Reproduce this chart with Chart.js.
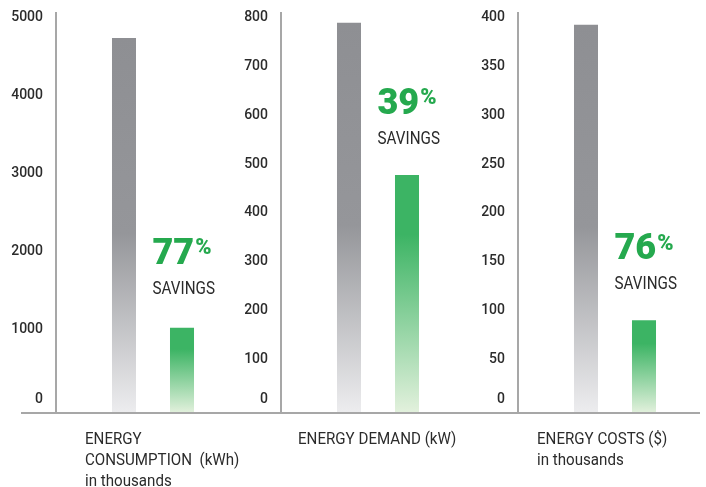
<!DOCTYPE html>
<html>
<head>
<meta charset="utf-8">
<script src="https://cdn.jsdelivr.net/npm/chart.js@4/dist/chart.umd.min.js"></script>
<style>
  html, body { margin: 0; padding: 0; background: #fff; overflow: hidden; }
  #wrap { position: relative; width: 706px; height: 487px; overflow: hidden; }
  #wrap canvas { position: absolute; top: 0; }
</style>
</head>
<body>
<div id="wrap">
  <canvas id="panel-0"></canvas>
  <canvas id="panel-1"></canvas>
  <canvas id="panel-2"></canvas>
</div>
<script>
// chart data
const panelTitles = [
  ["ENERGY", "CONSUMPTION  (kWh)", "in thousands"],
  ["ENERGY DEMAND (kW)"],
  ["ENERGY COSTS ($)", "in thousands"],
];
const beforeValues = [4800, 800, 398];
const afterValues = [1090, 488, 95];
const savingsPct = ["77", "39", "76"];
const axisMax = [5120, 820, 410];
const yTicks = [
  [0, 1000, 2000, 3000, 4000, 5000],
  [0, 100, 200, 300, 400, 500, 600, 700, 800],
  [0, 50, 100, 150, 200, 250, 300, 350, 400],
];

// where each panel sits on the page
const panelLayout = [
  { left: 0, width: 250, axisWidth: 56, captionX: 29, calloutDy: 0, lineFrom: 21, lineTo: 250 },
  { left: 236, width: 239, axisWidth: 45, captionX: 17, calloutDy: 3, lineFrom: 0, lineTo: 239 },
  { left: 475, width: 237, axisWidth: 43, captionX: 19, calloutDy: 3, lineFrom: 0, lineTo: 225 },
];

const FONT = "Roboto, 'Liberation Sans', sans-serif";
const TEXT_COLOR = "#2b2b2b";
const GREEN_TEXT = "#25a94e";
const LINE_COLOR = "#a7a7a7";

// vertical fade per bar, from bar top to the baseline
function barGradient(stops) {
  return (context) => {
    const { chart } = context;
    if (!chart.chartArea) return stops[0][1];
    const y = chart.scales.y;
    const top = y.getPixelForValue(context.raw);
    const bottom = y.getPixelForValue(0);
    const g = chart.ctx.createLinearGradient(0, top, 0, bottom);
    stops.forEach(([pos, color]) => g.addColorStop(pos, color));
    return g;
  };
}

const greyStops = [[0, "#8e8f93"], [0.52, "#95969a"], [1, "#ededef"]];
const greenStops = [[0, "#3cb464"], [0.25, "#3cb464"], [1, "#e3f1dd"]];

// squeeze text sideways to get the condensed look of the original
function condensedText(ctx, text, x, y, sx) {
  ctx.save();
  ctx.translate(x, y);
  ctx.scale(sx, 1);
  ctx.fillText(text, 0, 0);
  ctx.restore();
}

// baseline, caption under the panel and the savings callout
function panelTextPlugin(i) {
  const layout = panelLayout[i];
  return {
    id: "panelText" + i,
    afterDatasetsDraw(chart) {
      const { ctx, chartArea } = chart;
      const y0 = chart.scales.y.getPixelForValue(0);

      ctx.save();
      ctx.strokeStyle = LINE_COLOR;
      ctx.lineWidth = 2;
      ctx.beginPath();
      ctx.moveTo(layout.lineFrom, y0);
      ctx.lineTo(layout.lineTo, y0);
      ctx.stroke();

      ctx.fillStyle = TEXT_COLOR;
      ctx.font = "17px " + FONT;
      ctx.textAlign = "left";
      ctx.textBaseline = "alphabetic";
      panelTitles[i].forEach((line, k) => {
        condensedText(ctx, line, chartArea.left + layout.captionX, y0 + 31 + k * 21, 0.89);
      });

      const bar = chart.getDatasetMeta(1).data[0];
      const x = bar.x - 29.5;
      const top = bar.y + layout.calloutDy;
      ctx.fillStyle = GREEN_TEXT;
      ctx.font = "900 36px " + FONT;
      ctx.fillText(savingsPct[i], x, top - 64);
      const w = ctx.measureText(savingsPct[i]).width;
      ctx.font = "900 22px " + FONT;
      ctx.fillText("%", x + w + 1, top - 73.5);

      ctx.fillStyle = TEXT_COLOR;
      ctx.font = "17.5px " + FONT;
      condensedText(ctx, "SAVINGS", x, top - 34, 0.87);
      ctx.restore();
    },
  };
}

panelLayout.forEach((layout, i) => {
  const canvas = document.getElementById("panel-" + i);
  canvas.width = layout.width;
  canvas.height = 487;
  canvas.style.left = layout.left + "px";

  new Chart(canvas, {
    type: "bar",
    data: {
      labels: [panelTitles[i].join(" ")],
      datasets: [
        {
          label: "Before",
          data: [beforeValues[i]],
          backgroundColor: barGradient(greyStops),
        },
        {
          label: "After",
          data: [afterValues[i]],
          backgroundColor: barGradient(greenStops),
        },
      ],
    },
    options: {
      responsive: false,
      animation: false,
      devicePixelRatio: 1,
      categoryPercentage: 0.598,
      barPercentage: 0.414,
      layout: { padding: { top: 13, bottom: 74, left: 0, right: 0 } },
      plugins: {
        legend: { display: false },
        tooltip: { enabled: false },
      },
      scales: {
        x: {
          display: false,
        },
        y: {
          min: 0,
          max: axisMax[i],
          grid: { display: false, drawTicks: false },
          border: { display: true, color: LINE_COLOR, width: 2 },
          afterBuildTicks(scale) {
            scale.ticks = yTicks[i].map((v) => ({ value: v }));
          },
          ticks: {
            padding: 13,
            labelOffset: -5,
            color: TEXT_COLOR,
            font: { family: FONT, size: 14, weight: 500 },
            // the zero label sits a little higher in the original
            callback: (v) => (v === 0 ? ["0", ""] : String(v)),
          },
          afterFit(scale) {
            scale.width = layout.axisWidth;
            scale.paddingTop = 0;
            scale.paddingBottom = 0;
          },
        },
      },
    },
    plugins: [panelTextPlugin(i)],
  });
});
</script>
</body>
</html>
